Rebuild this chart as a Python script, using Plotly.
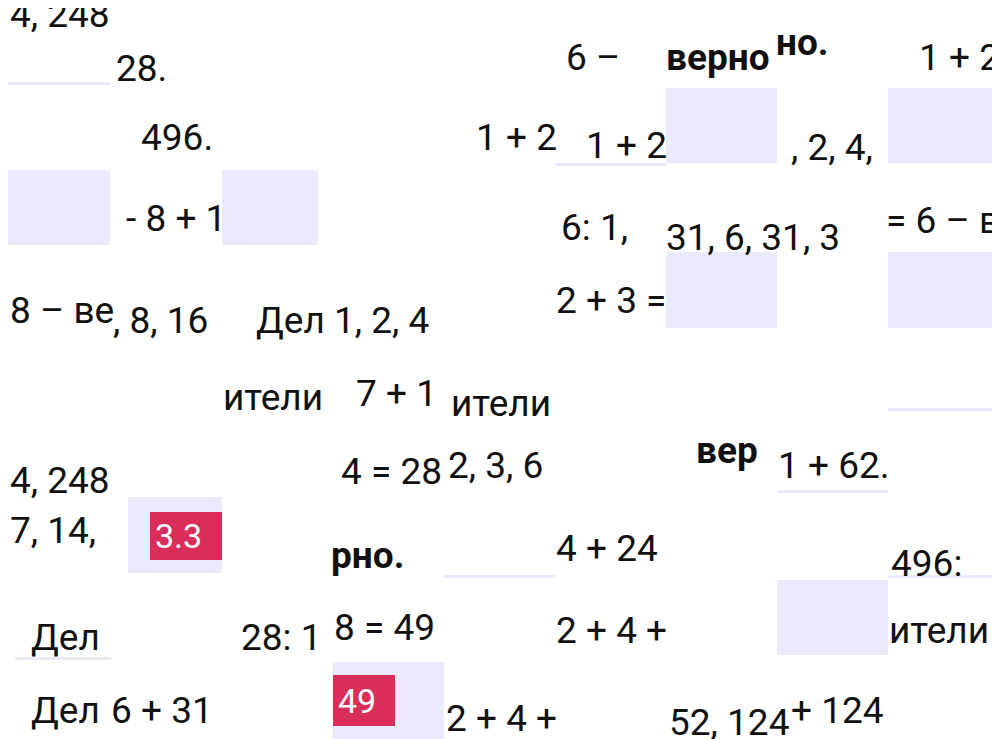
import plotly.graph_objects as go

# text fragments: text, left x, centre y, bold
frag_text = ["4, 248", "28.", "496.", "1 + 2", "1 + 2", "6 –", "верно", "но.", "1 + 2",
             ", 2, 4,", "- 8 + 1", "6: 1,", "31, 6, 31, 3", "= 6 – в", "8 – ве", ", 8, 16",
             "Дел 1, 2, 4", "2 + 3 =", "ители", "7 + 1", "ители", "4, 248", "4 = 28",
             "2, 3, 6", "вер", "1 + 62.", "7, 14,", "рно.", "4 + 24", "496:", "Дел",
             "28: 1", "8 = 49", "2 + 4 +", "ители", "Дел", "6 + 31", "2 + 4 +", "52, 124", "+ 124"]
frag_x = [9, 115, 140, 475, 585, 565, 665, 775, 918, 790, 125, 560, 665, 885, 9, 112,
          255, 555, 222, 355, 450, 9, 340, 447, 695, 777, 9, 330, 555, 890, 30, 240, 333,
          555, 888, 30, 110, 445, 668, 790]
frag_y = [14, 68, 137, 137, 145, 57, 57, 42, 57, 147, 218, 227, 237, 220, 310, 320, 320,
          300, 397, 393, 403, 480, 471, 465, 450, 465, 530, 555, 548, 563, 637, 637, 627,
          630, 630, 710, 710, 718, 722, 710]
frag_bold = [False, False, False, False, False, False, True, True, False, False, False,
             False, False, False, False, False, False, False, False, False, False, False,
             False, False, True, False, False, True, False, False, False, False, False,
             False, False, False, False, False, False, False]

# lavender boxes: x0, y0, x1, y1
box_x0 = [333, 0, 222, 666, 888, 666, 888, 128, 777, 333, 0, 555, 888, 777, 444, 888, 15]
box_y0 = [0, 170, 170, 88, 88, 252, 252, 497, 580, 662, 82, 163, 408, 490, 575, 575, 657]
box_x1 = [444, 110, 318, 777, 999, 777, 999, 222, 888, 444, 111, 666, 999, 888, 555, 999, 111]
box_y1 = [3, 245, 245, 163, 163, 328, 328, 573, 655, 739, 85, 166, 411, 493, 578, 578, 660]

# red badges
badge_text = ["3.3", "49"]
badge_x0 = [150, 333]
badge_y0 = [512, 675]
badge_x1 = [222, 395]
badge_y1 = [560, 726]

fig = go.Figure()
shapes = []
for a, b, c, d in zip(box_x0, box_y0, box_x1, box_y1):
    shapes.append(dict(type="rect", x0=a, y0=b, x1=c, y1=d, fillcolor="#ebeafc",
                       line_width=0, layer="below"))
for a, b, c, d in zip(badge_x0, badge_y0, badge_x1, badge_y1):
    shapes.append(dict(type="rect", x0=a, y0=b, x1=c, y1=d, fillcolor="#d92e5a",
                       line_width=0, layer="below"))

anns = []
for t, x, y, bd in zip(frag_text, frag_x, frag_y, frag_bold):
    anns.append(dict(x=x, y=y, text=f"<b>{t}</b>" if bd else t, showarrow=False,
                     xanchor="left", yanchor="middle", borderpad=0,
                     font=dict(family="Roboto", size=37, color="#111")))
for t, a, b, c, d in zip(badge_text, badge_x0, badge_y0, badge_x1, badge_y1):
    anns.append(dict(x=a + 4, y=(b + d) / 2, text=t, showarrow=False, xanchor="left",
                     yanchor="middle", borderpad=0,
                     font=dict(family="Roboto", size=34, color="white")))

# page body adds an 8px margin, so shift the view by 8
fig.update_layout(
    width=1000, height=739, margin=dict(l=0, r=0, t=0, b=0),
    plot_bgcolor="white", paper_bgcolor="white", showlegend=False,
    shapes=shapes, annotations=anns,
    xaxis=dict(range=[8, 1008], visible=False, fixedrange=True),
    yaxis=dict(range=[747, 8], visible=False, fixedrange=True),
)
fig.write_html("out.html")
